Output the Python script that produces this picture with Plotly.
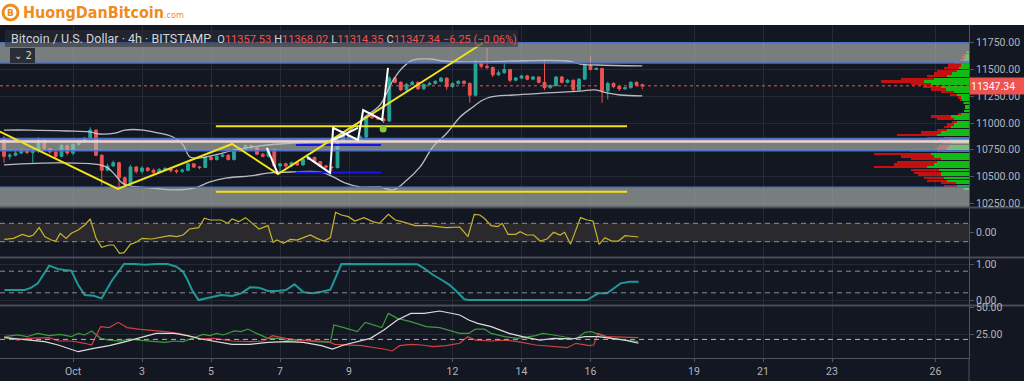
import plotly.graph_objects as go

# ---------------- data ----------------
# 4h candles BTC/USD (BITSTAMP), oldest first; time in days from Oct 1 00:00
first_open = 10860
last_open = 11357.53
close = [
    10690, 10700, 10720, 10745, 10725, 10740, 10840, 10760, 10730, 10690,
    10790, 10720, 10800, 10830, 10860, 10935, 10700, 10560, 10600, 10630,
    10490, 10430, 10590, 10550, 10580, 10560, 10540, 10565, 10575, 10555,
    10550, 10560, 10620, 10590, 10585, 10680, 10660, 10690, 10700, 10660,
    10740, 10760, 10790, 10770, 10710, 10690, 10750, 10600, 10620, 10600,
    10630, 10610, 10660, 10680, 10640, 10600, 10590, 10585, 10830, 10880,
    10860, 10850, 10870, 11060, 11050, 11040, 11020, 11420, 11380, 11310,
    11360, 11380, 11320, 11360, 11370, 11390, 11420, 11340, 11370, 11390,
    11370, 11260, 11560, 11530, 11520, 11450, 11470, 11500, 11400, 11420,
    11440, 11410, 11430, 11380, 11330, 11350, 11430, 11380, 11400, 11310,
    11410, 11540, 11500, 11510, 11300, 11370, 11340, 11320, 11330, 11380,
    11353.59, 11347.34]
high = [
    10880, 10720, 10740, 10760, 10755, 10760, 10870, 10850, 10770, 10740,
    10810, 10800, 10820, 10845, 10870, 10960, 10940, 10710, 10620, 10650,
    10640, 10500, 10610, 10600, 10600, 10590, 10575, 10580, 10590, 10580,
    10570, 10575, 10630, 10625, 10600, 10690, 10690, 10700, 10715, 10710,
    10750, 10770, 10800, 10800, 10775, 10720, 10760, 10760, 10630, 10630,
    10640, 10635, 10670, 10690, 10685, 10645, 10610, 10600, 10840, 10895,
    10885, 10870, 10885, 11070, 11080, 11060, 11050, 11440, 11425, 11390,
    11375, 11395, 11390, 11370, 11385, 11400, 11430, 11425, 11380, 11400,
    11400, 11380, 11590, 11570, 11700, 11525, 11490, 11560, 11505, 11430,
    11450, 11450, 11440, 11435, 11580, 11360, 11440, 11440, 11410, 11405,
    11420, 11550, 11630, 11520, 11515, 11385, 11380, 11350, 11340, 11390,
    11390, 11368.02]
low = [
    10630, 10660, 10690, 10710, 10710, 10630, 10720, 10740, 10710, 10670,
    10680, 10700, 10700, 10790, 10820, 10850, 10690, 10420, 10560, 10590,
    10400, 10410, 10420, 10530, 10530, 10545, 10525, 10530, 10555, 10540,
    10530, 10535, 10550, 10580, 10570, 10580, 10650, 10650, 10680, 10650,
    10650, 10730, 10755, 10760, 10700, 10680, 10680, 10590, 10545, 10585,
    10590, 10600, 10600, 10655, 10630, 10590, 10575, 10550, 10575, 10820,
    10845, 10835, 10845, 10860, 11040, 11030, 11000, 11010, 11370, 11300,
    11300, 11350, 11310, 11310, 11350, 11360, 11380, 11310, 11330, 11360,
    11360, 11190, 11250, 11510, 11500, 11430, 11440, 11460, 11380, 11390,
    11410, 11400, 11400, 11370, 11310, 11320, 11340, 11370, 11370, 11290,
    11300, 11400, 11490, 11495, 11190, 11220, 11325, 11300, 11310, 11320,
    11340, 11314.35]
open_ = [first_open] + close[:-2] + [last_open]
candle_t = [-2 + i / 6 for i in range(len(close))]

# Bollinger bands
bb_up_t = [-2.0, -1.25, -0.17, 0.49, 0.78, 1.22, 1.51, 2.03, 2.32, 2.90, 3.19, 3.39, 3.68, 4.12,
           4.70, 5.42, 6.38, 7.16, 7.74, 8.17, 8.46, 8.90, 9.28, 9.57, 9.86, 10.35, 10.72, 11.22,
           11.80, 12.75, 14.32, 14.70, 15.19, 16.5]
bb_up_p = [10935, 10935, 10926, 10917, 10898, 10907, 10935, 10935, 10917, 10870, 10796, 10684,
           10675, 10703, 10749, 10787, 10814, 10824, 10861, 10973, 11057, 11169, 11402, 11523,
           11589, 11598, 11579, 11570, 11570, 11579, 11579, 11551, 11542, 11533]
bb_lo_t = [-2.0, -0.38, 0.78, 1.01, 1.22, 1.42, 1.65, 2.23, 2.96, 3.54, 3.97, 4.46, 5.13, 5.71,
           6.38, 7.16, 7.54, 7.88, 8.32, 8.90, 9.28, 9.68, 10.06, 10.43, 10.84, 11.22, 11.59,
           11.88, 12.09, 12.75, 13.74, 14.70, 15.13, 15.48, 15.86, 16.5]
bb_lo_p = [10610, 10628, 10610, 10582, 10516, 10442, 10413, 10395, 10376, 10395, 10451, 10488,
           10507, 10535, 10544, 10544, 10498, 10442, 10404, 10404, 10376, 10469, 10591, 10777,
           10907, 11057, 11150, 11215, 11243, 11262, 11281, 11299, 11309, 11281, 11262, 11253]

# visible-range volume profile (bins of 25 USD)
vp_bin_low = list(range(10375, 11675, 25))
vp_up = [5, 12, 13, 22, 25, 28, 28, 30, 42, 35, 32, 28, 35, 38, 32, 22, 20, 18, 20, 25,
         32, 28, 22, 18, 15, 12, 15, 18, 8, 5, 4, 4, 5, 7, 8, 12, 15, 23, 28, 38,
         45, 35, 22, 17, 12, 10, 8, 7, 5, 4, 3, 2]
vp_down = [1, 13, 15, 20, 20, 23, 27, 28, 53, 40, 40, 30, 33, 57, 27, 10, 10, 8, 10, 17,
           40, 20, 10, 7, 7, 5, 17, 20, 3, 0, 0, 0, 1, 2, 3, 7, 13, 15, 18, 20,
           43, 33, 20, 18, 20, 15, 13, 8, 4, 3, 2, 1]

# oscillator 1 (yellow, CCI-like)
cci_t = [-1.99, -1.73, -1.47, -1.27, -1.15, -0.98, -0.82, -0.63, -0.50, -0.37, -0.20, -0.05, 0.15,
         0.34, 0.50, 0.67, 0.83, 1.05, 1.18, 1.35, 1.48, 1.66, 1.83, 2.00, 2.28, 2.54, 2.80, 3.00,
         3.19, 3.38, 3.64, 3.81, 3.97, 4.29, 4.48, 4.61, 4.81, 5.00, 5.20, 5.39, 5.65, 5.80, 5.91,
         6.10, 6.30, 6.49, 6.68, 6.88, 7.07, 7.27, 7.46, 7.61, 7.78, 7.98, 8.17, 8.43, 8.69, 8.88,
         9.14, 9.34, 9.53, 9.72, 9.92, 10.31, 10.63, 10.82, 11.21, 11.45, 11.63, 11.79, 11.92,
         12.12, 12.31, 12.44, 12.61, 12.83, 12.96, 13.15, 13.35, 13.54, 13.74, 13.93, 14.12,
         14.25, 14.42, 14.58, 14.71, 14.90, 15.07, 15.25, 15.42, 15.61, 15.81, 16.00, 16.19, 16.39]
cci_v = [-75, -64, -20, -45, -27, 53, -45, -82, -93, -9, -64, -9, 27, 82, 147, -64, -162, -136,
         -136, -227, -220, -129, -107, -64, -71, -56, -35, -45, -27, 38, 53, 155, 136, 136, 100,
         147, 118, 162, 100, 38, 75, -107, -82, -118, -75, -82, -56, -27, -64, -93, -56, 220, 191,
         173, 125, 162, 118, 100, 198, 136, 118, 100, 75, 75, 64, 53, 60, -45, 198, 191, 155, 75,
         64, 100, -20, -20, 9, -27, -27, -93, -71, 2, -27, 2, -129, 27, 162, 136, 125, -129, -56,
         -93, -93, -35, -45, -49]

# oscillator 2 (teal, 0..1)
osc_t = [-1.99, -1.40, -1.21, -1.02, -0.69, -0.43, -0.24, -0.05, 0.15, 0.34, 0.60, 0.83, 1.12,
         1.48, 1.77, 2.09, 2.41, 2.74, 3.00, 3.19, 3.32, 3.45, 3.64, 3.97, 4.29, 4.61, 4.87, 5.13,
         5.39, 5.65, 5.91, 6.17, 6.42, 6.68, 6.94, 7.20, 7.46, 7.78, 8.11, 8.62, 9.53, 9.98, 10.18,
         10.44, 10.69, 10.89, 11.08, 11.34, 11.47, 12.12, 12.76, 13.41, 14.06, 14.71, 14.90, 15.22,
         15.48, 15.87, 16.13, 16.39]
osc_v = [0.278, 0.278, 0.343, 0.463, 0.954, 0.861, 0.833, 0.815, 0.417, 0.139, 0.12, 0.046,
         0.528, 1.0, 1.0, 0.98, 1.0, 1.0, 0.926, 0.787, 0.556, 0.278, 0.0, 0.074, 0.139, 0.111,
         0.185, 0.352, 0.343, 0.25, 0.25, 0.278, 0.435, 0.213, 0.185, 0.231, 0.287, 1.0, 1.0, 1.0,
         1.0, 0.99, 0.88, 0.694, 0.556, 0.435, 0.278, 0.02, 0.0, 0.0, 0.01, 0.0, 0.0, 0.0, 0.0,
         0.185, 0.185, 0.463, 0.509, 0.509]

# DMI (+DI green, -DI red, ADX white)
pdi_t = [-1.99, -1.60, -1.34, -1.02, -0.69, -0.37, -0.05, 0.15, 0.34, 0.54, 0.80, 1.05, 1.38,
         1.64, 1.90, 2.15, 2.41, 2.67, 2.93, 3.19, 3.45, 3.77, 3.97, 4.16, 4.35, 4.68, 4.87, 5.07,
         5.32, 5.65, 5.97, 6.30, 6.68, 7.07, 7.46, 7.56, 7.85, 8.24, 8.47, 8.75, 8.95, 9.14, 9.40,
         9.79, 10.24, 10.63, 10.95, 11.21, 11.47, 11.67, 11.92, 12.12, 12.51, 12.89, 13.41, 13.61,
         13.93, 14.19, 14.58, 14.84, 15.03, 15.22, 15.61, 16.00, 16.39]
pdi_v = [22.5, 24.1, 22.5, 25.6, 23.5, 24.7, 22.5, 25.6, 24.1, 27.8, 21.0, 19.4, 18.5, 20.4, 19.4,
         18.5, 17.9, 17.3, 18.5, 17.9, 21.0, 24.7, 23.5, 25.6, 24.1, 27.8, 27.2, 29.6, 25.6, 21.0,
         21.0, 18.5, 19.4, 17.9, 17.3, 33.3, 30.9, 27.2, 35.8, 33.3, 30.9, 44.1, 39.5, 36.4, 31.8,
         30.9, 27.8, 25.6, 25.6, 29.6, 29.6, 25.6, 22.5, 21.0, 23.5, 25.6, 24.1, 22.5, 20.4, 26.5,
         27.2, 24.7, 21.0, 19.4, 17.9]
mdi_t = [-1.99, -1.60, -1.34, -0.95, -0.69, -0.43, -0.05, 0.34, 0.54, 0.80, 1.05, 1.31, 1.57,
         1.90, 2.28, 2.67, 3.06, 3.32, 3.71, 4.10, 4.61, 5.13, 5.52, 5.78, 6.17, 6.55, 6.94, 7.39,
         7.59, 7.98, 8.37, 8.75, 9.01, 9.25, 9.47, 9.79, 10.11, 10.44, 10.82, 11.21, 11.44, 11.67,
         12.12, 12.51, 12.89, 13.41, 13.93, 14.32, 14.58, 14.97, 15.09, 15.22, 15.48, 16.00, 16.39]
mdi_v = [22.5, 19.4, 21.0, 21.6, 21.6, 18.5, 18.5, 16.4, 14.8, 31.8, 30.9, 35.8, 30.9, 29.6, 28.7,
         27.2, 25.6, 23.5, 20.4, 21.0, 18.5, 17.9, 18.5, 23.5, 21.0, 19.4, 18.5, 17.9, 15.4, 14.8,
         14.2, 12.3, 11.1, 9.3, 14.2, 15.4, 14.8, 13.3, 14.2, 16.4, 22.5, 19.4, 18.5, 19.4, 17.9,
         14.8, 13.3, 12.3, 16.4, 14.2, 14.8, 25.6, 22.5, 21.6, 21.6]
adx_t = [-1.99, -1.60, -1.21, -0.82, -0.43, 0.15, 0.60, 1.05, 1.44, 1.90, 2.41, 2.93, 3.32, 3.71,
         4.22, 4.61, 5.13, 5.65, 6.17, 6.68, 7.20, 7.52, 7.85, 8.24, 8.62, 9.01, 9.40, 9.79, 10.18,
         10.63, 10.95, 11.21, 11.47, 11.73, 12.12, 12.64, 13.15, 13.54, 13.93, 14.45, 14.84, 15.22,
         15.61, 16.00, 16.39]
adx_v = [21.6, 20.4, 19.4, 17.9, 14.8, 8.6, 11.7, 14.2, 17.3, 21.0, 25.6, 25.6, 23.5, 20.4, 17.9,
         15.4, 15.4, 17.3, 17.9, 17.3, 14.2, 11.1, 14.8, 17.9, 21.0, 28.7, 38.0, 44.1, 44.1, 46.3,
         44.1, 42.6, 38.0, 34.9, 31.8, 25.6, 21.6, 19.4, 21.0, 20.4, 22.5, 22.5, 21.0, 19.4, 16.4]

# drawings
zones = [(11561, 11750), (10742, 10855), (10217, 10401)]
zone_edges = [11750, 11561, 10855, 10742, 10401]
pink_level = 10828
zigzag_t = [-2.12, 1.30, 4.61, 5.94, 11.88]
zigzag_p = [10920, 10385, 10805, 10525, 11747]
yellow_levels = [10970, 10360]
yellow_span = [4.14, 16.06]
blue_levels = [10795, 10540]
blue_span = [6.46, 8.93]
white_paths = [
    ([5.62, 5.94], [10768, 10525]),
    ([6.78, 7.45, 7.54, 8.26, 8.41, 8.96, 9.13], [10684, 10535, 10955, 10842, 11122, 11029, 11514]),
    ([7.54, 8.26], [10842, 10955]),
]
dot_t, dot_p = 8.99, 10945

time_tickvals = [0, 2, 4, 6, 8, 11, 13, 15, 18, 20, 22, 25]
time_ticktext = ["Oct", "3", "5", "7", "9", "12", "14", "16", "19", "21", "23", "26"]
price_ticks = [10250, 10500, 10750, 11000, 11250, 11500, 11750]
osc1_ticks = [0]
osc2_ticks = [0, 1]
dmi_ticks = [25, 50]

# ---------------- layout helpers ----------------
W, H = 1024, 381
ML, MR, MT, MB = 0, 55, 25, 23
PW, PH = W - ML - MR, H - MT - MB


def px(xp):
    return (xp - ML) / PW


def py(yp):
    return (MT + PH - yp) / PH


BG = "#131722"
GRID = "#262a35"
TXT = "#b2b5be"
UP, DN = "#26a69a", "#ef5350"
AXLINE = "#50535e"
FONT = "Roboto, 'DejaVu Sans', sans-serif"

fig = go.Figure()

fig.add_trace(go.Candlestick(
    x=candle_t, open=open_, high=high, low=low, close=close,
    increasing=dict(line=dict(color=UP, width=1), fillcolor=UP),
    decreasing=dict(line=dict(color=DN, width=1), fillcolor=DN),
    whiskerwidth=0, xaxis="x", yaxis="y", hoverinfo="skip"))

for t, p in ((bb_up_t, bb_up_p), (bb_lo_t, bb_lo_p)):
    fig.add_trace(go.Scatter(x=t, y=p, mode="lines", xaxis="x", yaxis="y",
                             line=dict(color="rgba(215,215,220,0.85)", width=1.3),
                             line_shape="spline", hoverinfo="skip"))

vp_center = [b + 12.5 for b in vp_bin_low]
fig.add_trace(go.Bar(x=vp_up, y=vp_center, orientation="h", xaxis="x2", yaxis="y",
                     width=21, marker=dict(color="rgba(20,205,20,0.9)", line=dict(width=0)),
                     hoverinfo="skip"))
fig.add_trace(go.Bar(x=vp_down, y=vp_center, orientation="h", xaxis="x2", yaxis="y",
                     width=21, marker=dict(color="rgba(215,15,15,0.9)", line=dict(width=0)),
                     hoverinfo="skip"))

fig.add_trace(go.Scatter(x=cci_t, y=cci_v, mode="lines", xaxis="x", yaxis="y2",
                         line=dict(color="#c9b431", width=1.2), hoverinfo="skip"))
fig.add_trace(go.Scatter(x=osc_t, y=osc_v, mode="lines", xaxis="x", yaxis="y3",
                         line=dict(color="#1f9898", width=2), hoverinfo="skip"))
fig.add_trace(go.Scatter(x=pdi_t, y=pdi_v, mode="lines", xaxis="x", yaxis="y4",
                         line=dict(color="#3f9a3f", width=1.2), hoverinfo="skip"))
fig.add_trace(go.Scatter(x=mdi_t, y=mdi_v, mode="lines", xaxis="x", yaxis="y4",
                         line=dict(color="#d04242", width=1.2), hoverinfo="skip"))
fig.add_trace(go.Scatter(x=adx_t, y=adx_v, mode="lines", xaxis="x", yaxis="y4",
                         line=dict(color="#dcdcdc", width=1.2), hoverinfo="skip"))

shapes = []
# oscillator band and levels
shapes.append(dict(type="rect", xref="paper", yref="y2", x0=0, x1=1, y0=-100, y1=100,
                   fillcolor="rgba(130,110,70,0.22)", line=dict(width=0), layer="below"))
for yr, lv, col in (("y2", 100, "#8a8d96"), ("y2", -100, "#8a8d96"), ("y3", 0.8, "#8a8d96"),
                    ("y3", 0.2, "#8a8d96"), ("y4", 20, "#c9a6c6")):
    shapes.append(dict(type="line", xref="paper", yref=yr, x0=0, x1=1, y0=lv, y1=lv,
                       line=dict(color=col, width=1, dash="5px,4px"), layer="above"))

# grey zones
for lo, hi in zones:
    shapes.append(dict(type="rect", xref="paper", yref="y", x0=0, x1=1, y0=lo, y1=hi,
                       fillcolor="rgba(180,190,180,0.62)", line=dict(width=0), layer="above"))
for lv in zone_edges:
    shapes.append(dict(type="line", xref="paper", yref="y", x0=0, x1=1, y0=lv, y1=lv,
                       line=dict(color="#4d6fc6", width=1.5), layer="above"))
shapes.append(dict(type="line", xref="paper", yref="y", x0=0, x1=1, y0=pink_level, y1=pink_level,
                   line=dict(color="#ecd4d4", width=2.5), layer="above"))
# last price
shapes.append(dict(type="line", xref="paper", yref="y", x0=0, x1=1, y0=close[-1], y1=close[-1],
                   line=dict(color=DN, width=1, dash="dot"), layer="above"))

# drawings
for lv in yellow_levels:
    shapes.append(dict(type="line", xref="x", yref="y", x0=yellow_span[0], x1=yellow_span[1],
                       y0=lv, y1=lv, line=dict(color="#f2e21a", width=2), layer="above"))
for lv in blue_levels:
    shapes.append(dict(type="line", xref="x", yref="y", x0=blue_span[0], x1=blue_span[1],
                       y0=lv, y1=lv, line=dict(color="#1515f0", width=2), layer="above"))


def path_of(ts, ps):
    return "M " + " L ".join(f"{t},{p}" for t, p in zip(ts, ps))


shapes.append(dict(type="path", xref="x", yref="y", path=path_of(zigzag_t, zigzag_p),
                   line=dict(color="#f2e21a", width=2), layer="above"))
for ts, ps in white_paths:
    shapes.append(dict(type="path", xref="x", yref="y", path=path_of(ts, ps),
                       line=dict(color="#ffffff", width=2), layer="above"))
shapes.append(dict(type="circle", xref="x", yref="y", xsizemode="pixel", ysizemode="pixel",
                   xanchor=dot_t, yanchor=dot_p, x0=-3.5, x1=3.5, y0=-3.5, y1=3.5,
                   fillcolor="#86c540", line=dict(width=0), layer="above"))

# panel separators and frame
for yp in (207.5, 257.5, 305.5):
    shapes.append(dict(type="line", xref="paper", yref="paper", x0=0, x1=px(W), y0=py(yp), y1=py(yp),
                       line=dict(color="#4a4d58", width=2), layer="above"))
shapes.append(dict(type="line", xref="paper", yref="paper", x0=1, x1=1, y0=py(H), y1=0,
                   line=dict(color=AXLINE, width=1), layer="above"))

# legend background and "2" button
shapes.append(dict(type="rect", xref="paper", yref="paper", x0=px(5), x1=px(518), y0=py(47), y1=py(30),
                   fillcolor="rgba(45,48,56,0.55)", line=dict(width=0), layer="above"))
shapes.append(dict(type="rect", xref="paper", yref="paper", x0=px(10), x1=px(35), y0=py(63), y1=py(48),
                   fillcolor="#2a2e39", line=dict(width=0), layer="above"))

# white header band and logo icon
shapes.append(dict(type="rect", xref="paper", yref="paper", x0=px(0), x1=px(W), y0=1, y1=py(0),
                   fillcolor="#ffffff", line=dict(width=0), layer="above"))
shapes.append(dict(type="circle", xref="paper", yref="paper", x0=px(3), x1=px(18), y0=py(20), y1=py(5),
                   fillcolor="#ffffff", line=dict(color="#f08c1e", width=3), layer="above"))

chg = close[-1] - close[-2]
chg_pct = chg / close[-2] * 100
LT = "color:#d1d4dc;font-size:11px"
LV = f"color:{DN};font-size:11px"
legend_txt = (
    '<span style="color:#d1d4dc">Bitcoin / U.S. Dollar · 4h · BITSTAMP</span>  '
    f'<span style="{LT}">O</span><span style="{LV}">{open_[-1]:.2f}</span> '
    f'<span style="{LT}">H</span><span style="{LV}">{high[-1]:.2f}</span> '
    f'<span style="{LT}">L</span><span style="{LV}">{low[-1]:.2f}</span> '
    f'<span style="{LT}">C</span><span style="{LV}">{close[-1]:.2f}</span> '
    f'<span style="{LV}">{chg:.2f} ({chg_pct:.2f}%)</span>'
)
legend_txt = legend_txt.replace(f">{chg:.2f} (", f">{chg:.2f} (".replace("-", "−")).replace(
    f"({chg_pct:.2f}%)", f"({chg_pct:.2f}%)".replace("-", "−"))

annotations = [
    dict(xref="paper", yref="paper", x=px(10.5), y=py(12.5), text="<b>B</b>", showarrow=False,
         font=dict(family="DejaVu Sans", size=9, color="#f08c1e"), xanchor="center", yanchor="middle"),
    dict(xref="paper", yref="paper", x=px(21), y=py(13), showarrow=False, xanchor="left", yanchor="middle",
         text='<b>HuongDanBitcoin</b><span style="font-size:9px">.com</span>',
         font=dict(family="'Liberation Sans Narrow', 'DejaVu Sans Condensed', sans-serif", size=16,
                   color="#f08c1e")),
    dict(xref="paper", yref="paper", x=px(9), y=py(38.5), showarrow=False, xanchor="left",
         yanchor="middle", text=legend_txt, font=dict(family=FONT, size=12.5, color="#d1d4dc")),
    dict(xref="paper", yref="paper", x=px(22.5), y=py(55.5), showarrow=False, xanchor="center",
         yanchor="middle", text="⌄ 2", font=dict(family="DejaVu Sans", size=10, color="#d1d4dc")),
]
# right-hand scale labels
for yr, vals in (("y", price_ticks), ("y2", osc1_ticks), ("y3", osc2_ticks), ("y4", dmi_ticks)):
    for v in vals:
        annotations.append(dict(xref="paper", yref=yr, x=px(974), y=v, text=f"{v:.2f}",
                                showarrow=False, xanchor="left", yanchor="middle",
                                font=dict(family=FONT, size=10.5, color=TXT)))
# last price badge
annotations.append(dict(xref="paper", yref="y", x=1, y=close[-1], showarrow=False, xanchor="left",
                        yanchor="middle", text=f"{close[-1]:.2f}", bgcolor=DN, width=53, height=14,
                        align="left", borderpad=1, font=dict(family=FONT, size=10.5, color="#ffffff")))

yax_common = dict(side="right", anchor="x", showgrid=True, gridcolor=GRID, zeroline=False,
                  showline=True, linecolor=AXLINE, ticks="outside", ticklen=4, tickcolor=AXLINE,
                  showticklabels=False, fixedrange=True)

fig.update_layout(
    width=W, height=H, margin=dict(l=ML, r=MR, t=MT, b=MB),
    paper_bgcolor=BG, plot_bgcolor=BG, showlegend=False, barmode="stack",
    font=dict(family=FONT, color=TXT),
    xaxis=dict(range=[-2.116, 25.97], anchor="y4", tickvals=time_tickvals, ticktext=time_ticktext,
               showgrid=True, gridcolor=GRID, zeroline=False, showline=True, linecolor=AXLINE,
               ticks="outside", ticklen=3, tickcolor=AXLINE, rangeslider=dict(visible=False),
               tickfont=dict(family=FONT, size=10.5, color=TXT), fixedrange=True),
    xaxis2=dict(overlaying="x", range=[PW, 0], visible=False, anchor="y"),
    yaxis=dict(domain=[py(207), 1], range=[10217, 11915], tickvals=price_ticks, **yax_common),
    yaxis2=dict(domain=[py(257), py(208)], range=[-267, 267], tickvals=osc1_ticks, **yax_common),
    yaxis3=dict(domain=[py(305), py(258)], range=[-0.139, 1.167], tickvals=osc2_ticks, **yax_common),
    yaxis4=dict(domain=[0, py(306)], range=[2.78, 50.93], tickvals=dmi_ticks, **yax_common),
    shapes=shapes, annotations=annotations,
)

fig.write_html("out.html", config={"displayModeBar": False},
               post_script="document.body.style.margin='0px';document.body.style.overflow='hidden';")
